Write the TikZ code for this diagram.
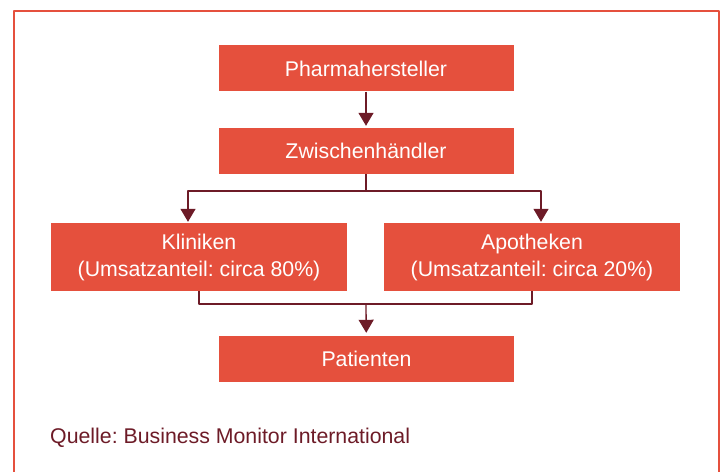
\documentclass[tikz,border=0pt]{standalone}
\usepackage{fontspec}
\setmainfont{Liberation Sans}
\usetikzlibrary{arrows.meta}
\definecolor{boxred}{HTML}{E5503D}
\definecolor{linered}{HTML}{6D1B27}
\frenchspacing
\begin{document}
\begin{tikzpicture}[>={Triangle[width=15bp,length=13bp]},line join=bevel,
  stufe/.style={fill=boxred,draw=none,text=white,inner sep=0pt,align=center,
    minimum width=295bp,minimum height=46bp,
    font=\fontsize{21.3bp}{27bp}\selectfont},
  breit/.style={stufe,minimum width=296bp,minimum height=68bp},
  fluss/.style={linered,line width=1.3bp},
  rahmen/.style={boxred,line width=2bp},
]
\useasboundingbox (0bp,0bp) rectangle (726bp,472bp);
\draw [rahmen] (14bp,0bp) |- (719bp,461bp) -- (719bp,0bp);
%%
\node (node_0) at (366.0bp,403.5bp) [stufe] {Pharmahersteller};
  \node (node_1) at (366.0bp,321.0bp) [stufe] {Zwischenhändler};
  \node (node_2) at (199.0bp,215.0bp) [breit] {Kliniken\\(Umsatzanteil: circa 80\%)};
  \node (node_3) at (532.0bp,215.0bp) [breit] {Apotheken\\(Umsatzanteil: circa 20\%)};
  \node (node_4) at (366.5bp,113.0bp) [stufe] {Patienten};
  \node (quelle) at (50.0bp,29.0bp) [anchor=base west,inner sep=0pt,text=linered,
    font=\fontsize{21.3bp}{27bp}\selectfont] {Quelle: Business Monitor International};
  \coordinate (split) at (366.0bp,281.0bp);
  \coordinate (merge) at (366.0bp,168.0bp);
  \draw [fluss,->,shorten >=2bp] (node_0) -- (node_1);
  \draw [fluss] (node_1) -- (split);
  \draw [fluss,->,shorten >=1bp] (split) -| ([xshift=-11bp]node_2.north);
  \draw [fluss,->,shorten >=1bp] (split) -| ([xshift=9bp]node_3.north);
  \draw [fluss] (node_2) |- (merge) -| (node_3);
  \draw [fluss,->,shorten >=3bp] (merge) -- (node_4);
%
\end{tikzpicture}
\end{document}
